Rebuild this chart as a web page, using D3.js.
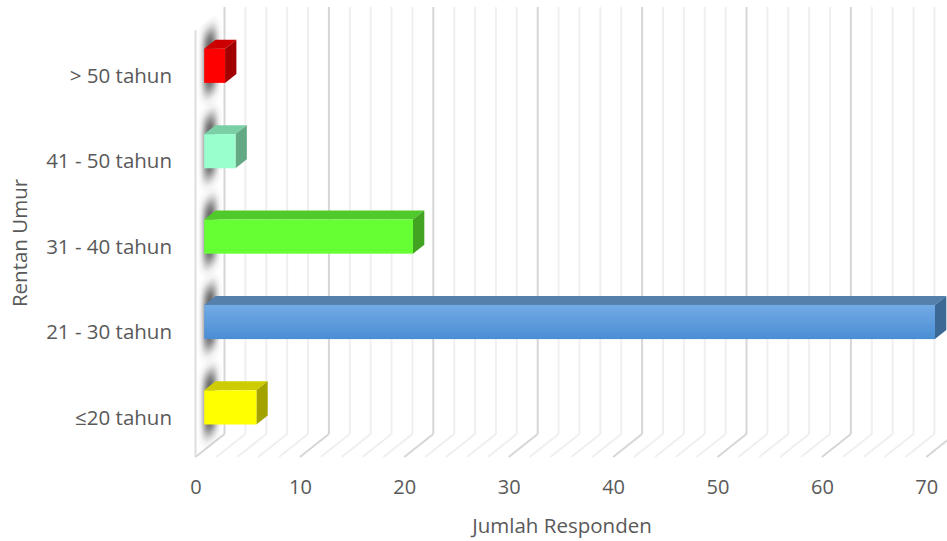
<!DOCTYPE html>
<html>
<head>
<meta charset="utf-8">
<script src="https://cdn.jsdelivr.net/npm/d3@7"></script>
<style>
  html, body { margin: 0; padding: 0; background: #ffffff; }
  svg { display: block; font-family: "Open Sans", "Noto Sans", sans-serif; }
</style>
</head>
<body>
<svg id="chart" width="947" height="541"></svg>
<script>
// Age ranges (top to bottom) and respondent counts
const categories = ["> 50 tahun", "41 - 50 tahun", "31 - 40 tahun", "21 - 30 tahun", "≤20 tahun"];
const values = [2, 3, 20, 70, 5];
const xTicks = [0, 10, 20, 30, 40, 50, 60, 70];
const xTitle = "Jumlah Responden";
const yTitle = "Rentan Umur";

// Face colours per bar: front, top, side
const faceColors = [
  { front: "#ff0000", top: "#cc0000", side: "#a20000" },
  { front: "#99ffcc", top: "#7bcfa6", side: "#63a984" },
  { front: "#66ff33", top: "#50c92a", side: "#41a321" },
  { front: "url(#blueFront)", top: "#5580ab", side: "#3b6895" },
  { front: "#ffff00", top: "#cccc00", side: "#a3a300" }
];

const svg = d3.select("#chart");
const textColor = "#595959";

// 3D projection: depth axis runs up and to the right
const DX = 29, DY = -23;
const d0 = 0.3, d1 = 0.69;   // bar depth range

const x = d3.scaleLinear().domain([0, 70]).range([195.5, 926.3]);
const y = d3.scaleBand().domain(categories).range([30, 457])
  .paddingInner(0.6).paddingOuter(0.3);
const floorY = 457;
const topY = 30;

const defs = svg.append("defs");
const g1 = defs.append("linearGradient").attr("id", "blueFront")
  .attr("x1", 0).attr("y1", 0).attr("x2", 0).attr("y2", 1);
g1.append("stop").attr("offset", "0%").attr("stop-color", "#72abe5");
g1.append("stop").attr("offset", "100%").attr("stop-color", "#4a8dd4");

defs.append("filter").attr("id", "wallShadow")
  .attr("x", "-50%").attr("y", "-50%").attr("width", "200%").attr("height", "200%")
  .append("feGaussianBlur").attr("stdDeviation", "3 7");

defs.append("clipPath").attr("id", "wallClip")
  .append("polygon")
  .attr("points", [
    [x(0), topY], [x(0), floorY], [x(0) + DX, floorY + DY], [x(0) + DX, topY + DY]
  ].map(p => p.join(",")).join(" "));

// Gridlines every 2 units: back wall verticals and floor diagonals
const gridValues = d3.range(0, 71, 2);
const grid = svg.append("g").attr("fill", "none");
gridValues.forEach(v => {
  const major = v % 10 === 0;
  const col = major ? "#d6d6d6" : "#efefef";
  grid.append("line")
    .attr("x1", x(v) + DX).attr("x2", x(v) + DX)
    .attr("y1", topY + DY).attr("y2", floorY + DY)
    .attr("stroke", col).attr("stroke-width", 2);
  grid.append("line")
    .attr("x1", x(v)).attr("y1", floorY)
    .attr("x2", x(v) + DX).attr("y2", floorY + DY)
    .attr("stroke", col).attr("stroke-width", 2);
});
// Front edge of the side wall
grid.append("line")
  .attr("x1", x(0)).attr("x2", x(0))
  .attr("y1", topY).attr("y2", floorY)
  .attr("stroke", "#dedede").attr("stroke-width", 2);

// Bar shadows cast on the side wall
const shadows = svg.append("g").attr("clip-path", "url(#wallClip)");
categories.forEach((c, i) => {
  const yb = y(c), h = y.bandwidth(), e = 13;
  const pts = [
    [x(0) + d0 * DX, yb + d0 * DY - e],
    [x(0) + d1 * DX, yb + d1 * DY - e],
    [x(0) + d1 * DX, yb + h + d1 * DY + e],
    [x(0) + d0 * DX, yb + h + d0 * DY + e]
  ];
  shadows.append("polygon")
    .attr("points", pts.map(p => p.join(",")).join(" "))
    .attr("fill", "#333333").attr("opacity", 0.8)
    .attr("filter", "url(#wallShadow)");
});

// Bars
const bars = svg.append("g");
categories.forEach((c, i) => {
  const v = values[i], col = faceColors[i];
  const yb = y(c), h = y.bandwidth();
  const xa = x(0), xb = x(v);
  const P = (xx, yy, d) => [xx + d * DX, yy + d * DY];
  const poly = pts => pts.map(p => p.join(",")).join(" ");
  bars.append("polygon")
    .attr("points", poly([P(xa, yb, d0), P(xb, yb, d0), P(xb, yb, d1), P(xa, yb, d1)]))
    .attr("fill", col.top);
  bars.append("polygon")
    .attr("points", poly([P(xb, yb, d0), P(xb, yb, d1), P(xb, yb + h, d1), P(xb, yb + h, d0)]))
    .attr("fill", col.side);
  bars.append("rect")
    .attr("x", xa + d0 * DX).attr("y", yb + d0 * DY)
    .attr("width", xb - xa).attr("height", h)
    .attr("fill", col.front);
});

// Value axis labels along the front floor edge
const xAxis = d3.axisBottom(x).tickValues(xTicks).tickFormat(d3.format("d"))
  .tickSize(0).tickPadding(23);
svg.append("g").attr("transform", `translate(0,${floorY})`).call(xAxis)
  .call(g => g.select(".domain").remove())
  .call(g => g.selectAll("text").attr("fill", textColor)
    .attr("font-size", 20).attr("font-family", "Open Sans"));

// Category axis labels
const yFront = d3.scaleBand().domain(categories).range([30, 457]);
const yAxis = d3.axisLeft(yFront).tickSize(0).tickPadding(23.5);
svg.append("g").attr("transform", `translate(${x(0)},0)`).call(yAxis)
  .call(g => g.select(".domain").remove())
  .call(g => g.selectAll("text").attr("fill", textColor)
    .attr("font-size", 20.5).attr("font-family", "Open Sans").attr("dy", "0.5em"));

// Axis titles
svg.append("text").attr("x", 562).attr("y", 533)
  .attr("text-anchor", "middle").attr("fill", textColor)
  .attr("font-size", 20.5).text(xTitle);
svg.append("text")
  .attr("transform", "translate(27,243) rotate(-90)")
  .attr("text-anchor", "middle").attr("fill", textColor)
  .attr("font-size", 20.5).text(yTitle);
</script>
</body>
</html>
